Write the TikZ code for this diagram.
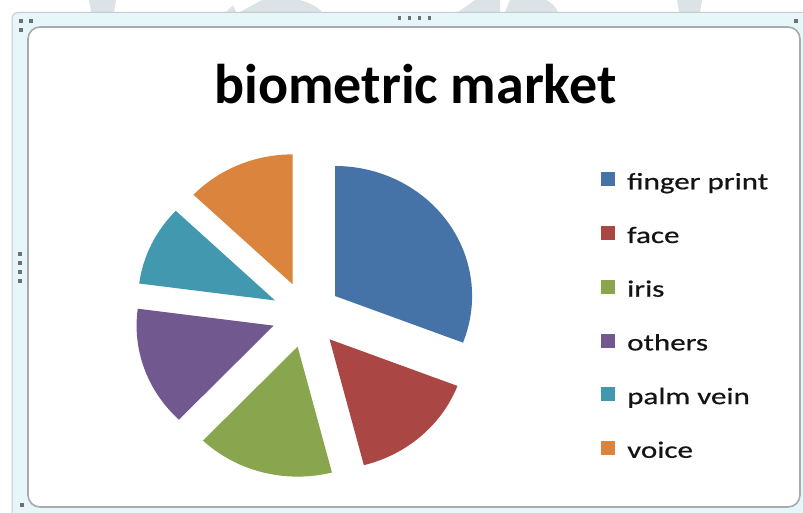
\documentclass[tikz,border=0pt]{standalone}
\usepackage{fontspec}
\setmainfont{Carlito}
\newfontfamily\legendfont[FakeStretch=1.32,FakeBold=0.6]{Carlito}
\newfontfamily\titlefont{Carlito}
\definecolor{cblue}{HTML}{4572A7}
\definecolor{cred}{HTML}{AA4643}
\definecolor{cgreen}{HTML}{89A54E}
\definecolor{cpurple}{HTML}{71588F}
\definecolor{cteal}{HTML}{4198AF}
\definecolor{corange}{HTML}{DB843D}
\definecolor{wmark}{HTML}{DCE3E6}
\definecolor{bandfill}{HTML}{E6F6F9}
\definecolor{bandline}{HTML}{C2CCCF}
\definecolor{innerline}{HTML}{A6ABAD}
\definecolor{handle}{HTML}{707070}
\definecolor{txt}{HTML}{141414}
\tikzset{
  legsq/.style={fill=#1, minimum width=14pt, minimum height=14pt, inner sep=0pt, draw=none},
  legtxt/.style={anchor=base west, inner sep=0pt, text=txt, font=\legendfont\fontsize{23.5}{28}\selectfont},
  hdl/.style={fill=handle, minimum size=3.5pt, inner sep=0pt, draw=none}
}
\begin{document}
\begin{tikzpicture}[x=1pt,y=-1pt]
\useasboundingbox (0,0) rectangle (803,513);
% faint watermark at the top
\fill[wmark] (89,0) -- (116,0) -- (114,12) -- (91,12) -- cycle;
\fill[wmark] (226,12) -- (233,5) -- (236,12) -- cycle;
\fill[wmark] (240,12) -- (262,0) -- (300,0) .. controls (310,3) and (318,7) .. (322,12) -- cycle;
\fill[wmark] (458,12) -- (475,0) -- (500,0) -- (500,12) -- cycle;
\fill[wmark] (505,12) -- (510,0) -- (546,0) .. controls (552,3) and (556,7) .. (558,12) -- cycle;
\fill[wmark] (677,0) -- (702,0) -- (700,12) -- (679,12) -- cycle;
% chart frame
\draw[bandline, fill=bandfill, line width=1pt, rounded corners=6pt] (12,12.5) rectangle (830,540);
\draw[innerline, fill=white, line width=1.6pt, rounded corners=12pt] (28,27) rectangle (800,507);
% handles
\node[hdl] (h1) at (21,21) {};
\node[hdl] (h2) at (31,21) {};
\node[hdl] (h3) at (21,30) {};
\node[hdl] (h4) at (399.5,18) {};
\node[hdl] (h5) at (409.5,18) {};
\node[hdl] (h6) at (419.5,18) {};
\node[hdl] (h7) at (429.5,18) {};
\node[hdl] (h8) at (796,21) {};
\node[hdl] (h9) at (20,254) {};
\node[hdl] (h10) at (20,263) {};
\node[hdl] (h11) at (20,272) {};
\node[hdl] (h12) at (20,281) {};
\node[hdl] (h13) at (22,505) {};
% title
\node[anchor=base, inner sep=0pt, text=black, font=\titlefont\bfseries\fontsize{56}{60}\selectfont] (title) at (415.5,104) {biometric market};
% exploded pie (slightly wider than tall)
\begin{scope}[shift={(306.4,314.7)}, yscale=-1, xscale=1.054]
  \def\R{130}
  \def\D{33}
  \fill[cblue]   (34.5:\D)    -- ++(-21:\R)    arc[start angle=-21,    end angle=90,    radius=\R] -- cycle;
  \fill[cred]    (-48.25:\D)  -- ++(-75.5:\R)  arc[start angle=-75.5,  end angle=-21,   radius=\R] -- cycle;
  \fill[cgreen]  (-104.6:\D)  -- ++(-133.7:\R) arc[start angle=-133.7, end angle=-75.5, radius=\R] -- cycle;
  \fill[cpurple] (-160.6:\D)  -- ++(-187.5:\R) arc[start angle=-187.5, end angle=-133.7, radius=\R] -- cycle;
  \fill[cteal]   (-205.55:\D) -- ++(-223.6:\R) arc[start angle=-223.6, end angle=-187.5, radius=\R] -- cycle;
  \fill[corange] (-246.8:\D)  -- ++(-270:\R)   arc[start angle=-270,   end angle=-223.6, radius=\R] -- cycle;
\end{scope}
% legend
\node[legsq=cblue]   (s1) at (608,179.5) {};
\node[legsq=cred]    (s2) at (608,233.2) {};
\node[legsq=cgreen]  (s3) at (608,286.9) {};
\node[legsq=cpurple] (s4) at (608,340.6) {};
\node[legsq=cteal]   (s5) at (608,394.3) {};
\node[legsq=corange] (s6) at (608,448.0) {};
\node[legtxt] (t1) at (627,189.3) {finger print};
\node[legtxt] (t2) at (627,243.0) {face};
\node[legtxt] (t3) at (627,296.7) {iris};
\node[legtxt] (t4) at (627,350.4) {others};
\node[legtxt] (t5) at (627,404.1) {palm vein};
\node[legtxt] (t6) at (627,457.8) {voice};
\end{tikzpicture}
\end{document}
